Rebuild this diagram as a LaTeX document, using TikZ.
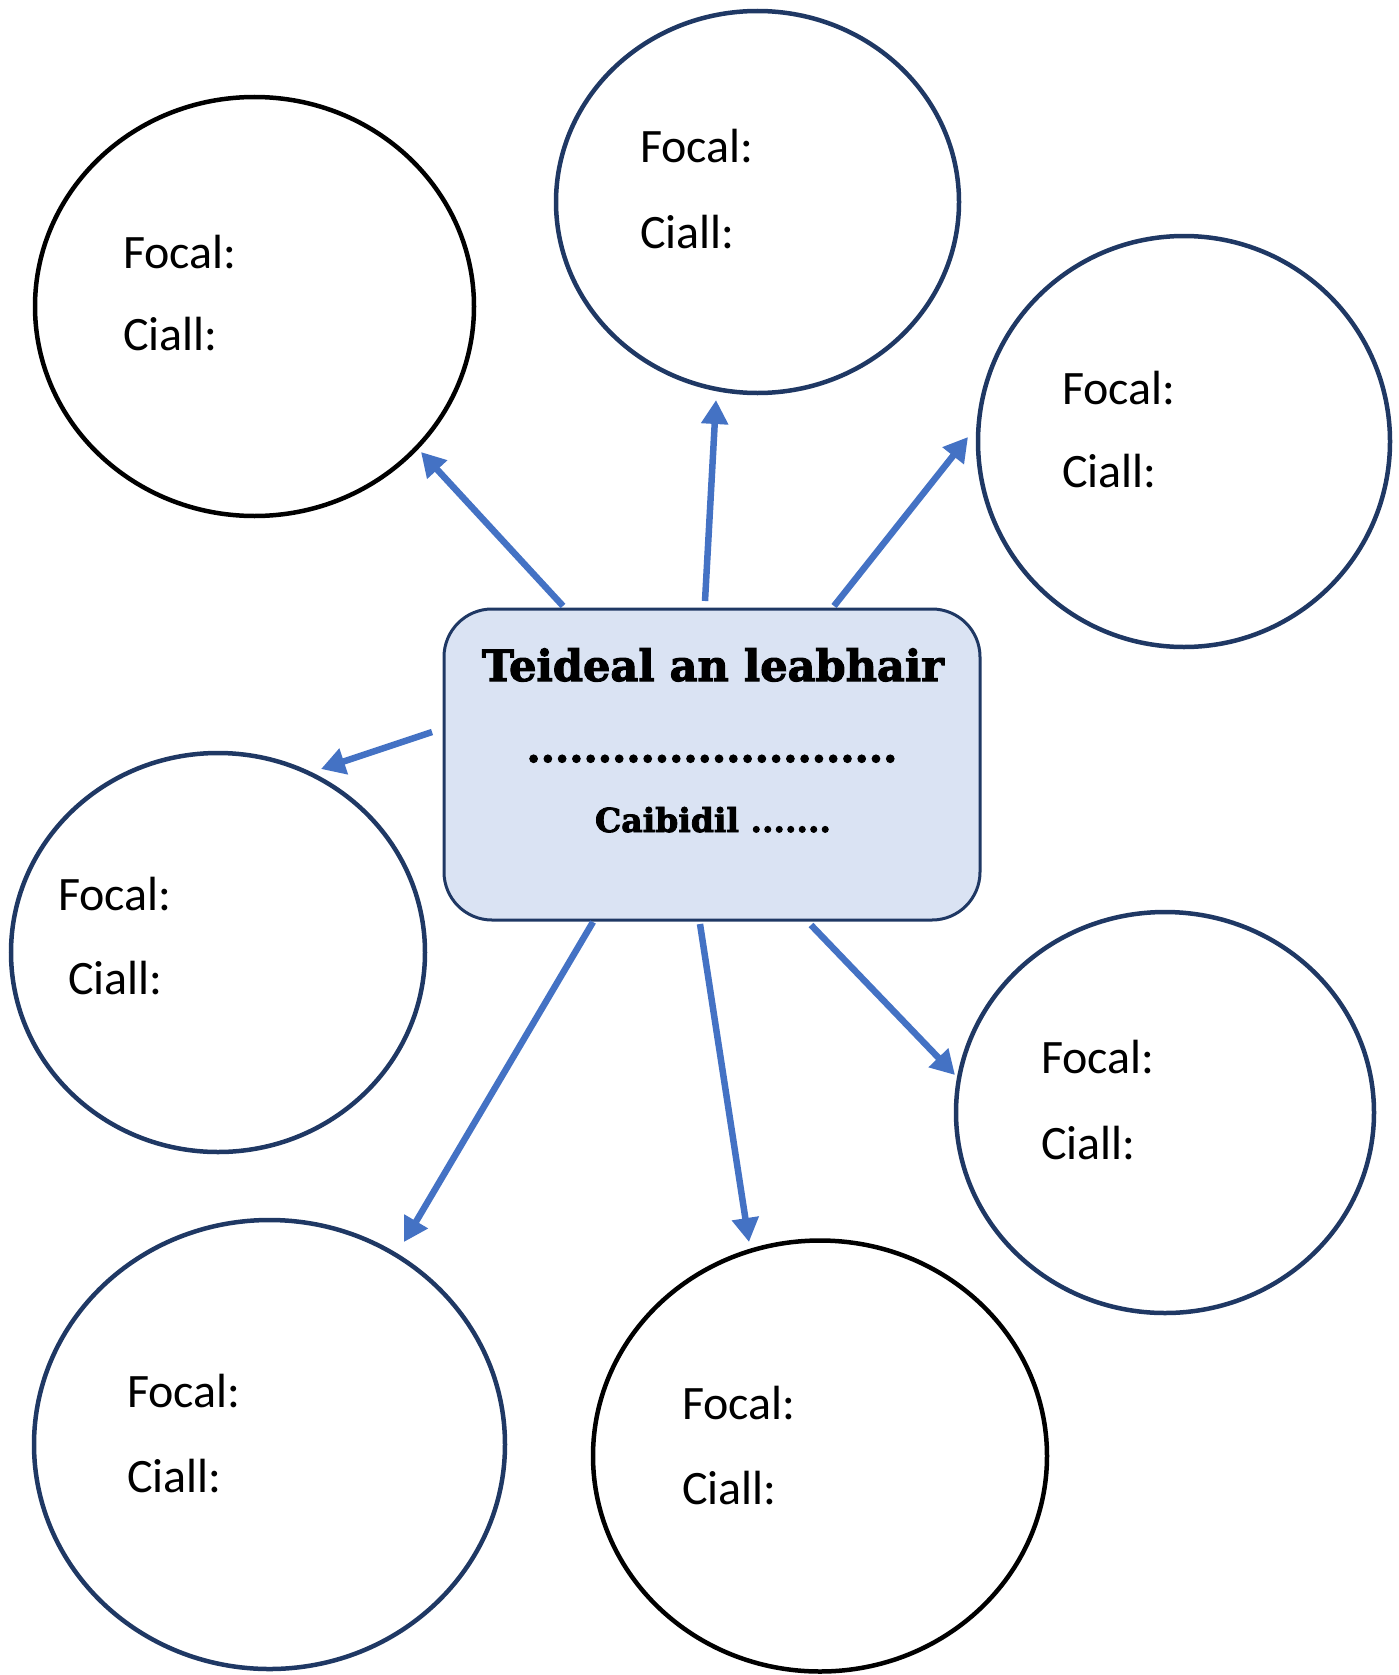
\documentclass[tikz,border=0pt]{standalone}
\usepackage{fontspec}
\setmainfont{Carlito}
\newfontfamily\titlefont[BoldFeatures={FakeBold=2.5}]{DejaVu Serif}
\usetikzlibrary{shapes.geometric,arrows.meta}
\definecolor{navy}{HTML}{1F3864}
\definecolor{boxfill}{HTML}{DAE3F3}
\definecolor{arrblue}{HTML}{4472C4}
\begin{document}
\begin{tikzpicture}[x=1pt,y=-1pt,
  bubble/.style={ellipse, draw=navy, line width=4.5pt, inner sep=0pt},
  blackbubble/.style={bubble, draw=black},
  lbl/.style={anchor=base west, inner sep=0pt, font=\fontsize{48}{58}\selectfont},
  arr/.style={draw=arrblue, line width=6.5pt, -{Triangle[length=24pt,width=26pt]}},
  titlebox/.style={rectangle, rounded corners=48pt, draw=navy, line width=3pt, fill=boxfill, inner sep=0pt}]
\useasboundingbox (0,0) rectangle (1399,1675);

% circles
\node[blackbubble, minimum width=439pt, minimum height=419pt] (c1) at (254.5,306.5) {};
\node[bubble, minimum width=403pt, minimum height=382pt] (c2) at (757.5,202) {};
\node[bubble, minimum width=412pt, minimum height=411pt] (c3) at (1184,441.5) {};
\node[bubble, minimum width=414pt, minimum height=399pt] (c4) at (218,952.5) {};
\node[bubble, minimum width=418pt, minimum height=401pt] (c5) at (1165,1112.5) {};
\node[bubble, minimum width=471pt, minimum height=449pt] (c6) at (269.5,1444.5) {};
\node[blackbubble, minimum width=454pt, minimum height=431pt] (c7) at (820,1456) {};

% labels
\node[lbl] (f1) at (123,268) {Focal:};
\node[lbl] (k1) at (123,350) {Ciall:};
\node[lbl] (f2) at (640,162) {Focal:};
\node[lbl] (k2) at (640,248) {Ciall:};
\node[lbl] (f3) at (1062,404) {Focal:};
\node[lbl] (k3) at (1062,487) {Ciall:};
\node[lbl] (f4) at (58,910) {Focal:};
\node[lbl] (k4) at (68,994) {Ciall:};
\node[lbl] (f5) at (1041,1073) {Focal:};
\node[lbl] (k5) at (1041,1159) {Ciall:};
\node[lbl] (f6) at (127,1407) {Focal:};
\node[lbl] (k6) at (127,1492) {Ciall:};
\node[lbl] (f7) at (682,1419) {Focal:};
\node[lbl] (k7) at (682,1504) {Ciall:};

% central box
\node[titlebox, minimum width=536pt, minimum height=311pt] (box) at (712,764.5) {};
\node[anchor=base, inner sep=0pt] (title) at (713,681) {\resizebox{462pt}{!}{\titlefont\bfseries Teideal an leabhair}};
\node[anchor=base, inner sep=0pt] (dots) at (712,762) {\resizebox{371pt}{!}{\titlefont\bfseries ..........................}};
\node[anchor=base, inner sep=0pt] (chap) at (713,832) {\resizebox{236pt}{!}{\titlefont\bfseries Caibidil .......}};

% arrow end points
\coordinate (a1s) at (563,606);  \coordinate (a1e) at (421,452);
\coordinate (a2s) at (705,601);  \coordinate (a2e) at (716,400);
\coordinate (a3s) at (834,606);  \coordinate (a3e) at (968,437);
\coordinate (a4s) at (432,732);  \coordinate (a4e) at (321,769);
\coordinate (a5s) at (593,922);  \coordinate (a5e) at (404,1242);
\coordinate (a6s) at (700,924);  \coordinate (a6e) at (749,1242);
\coordinate (a7s) at (811,925);  \coordinate (a7e) at (955,1075);

\draw[arr] (a1s) -- (a1e);
\draw[arr] (a2s) -- (a2e);
\draw[arr] (a3s) -- (a3e);
\draw[arr] (a4s) -- (a4e);
\draw[arr] (a5s) -- (a5e);
\draw[arr] (a6s) -- (a6e);
\draw[arr] (a7s) -- (a7e);
\end{tikzpicture}
\end{document}
